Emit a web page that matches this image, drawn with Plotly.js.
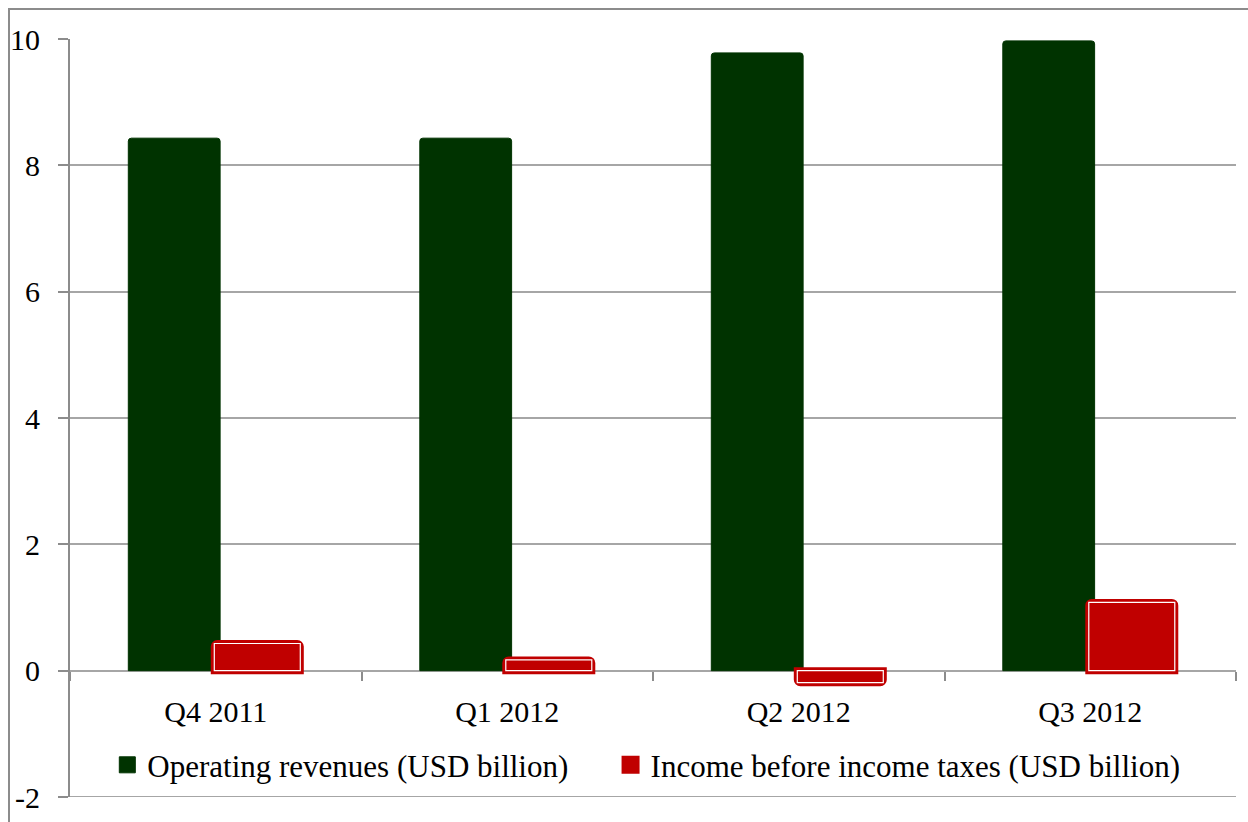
<!DOCTYPE html>
<html>
<head>
<meta charset="utf-8">
<script src="https://cdn.plot.ly/plotly-3.0.1.min.js"></script>
<style>
  html, body { margin: 0; padding: 0; background: #fff; }
  #frame { position: absolute; left: 8px; top: 8px; width: 1250px; height: 830px; border: 2px solid #8c8c8c; box-sizing: border-box; }
  #chart { position: absolute; left: 0; top: 0; width: 1248px; height: 822px; }
</style>
</head>
<body>
<div id="frame"></div>
<div id="chart"></div>
<script>
const categories = ["Q4 2011", "Q1 2012", "Q2 2012", "Q3 2012"];
const operatingRevenues = [8.43, 8.43, 9.78, 9.97];
const incomeBeforeTaxes = [0.43, 0.17, -0.19, 1.08];
const seriesNames = ["Operating revenues (USD billion)", "Income before income taxes (USD billion)"];
const yTicks = [-2, 0, 2, 4, 6, 8, 10];

const font = { family: "Liberation Serif", size: 30, color: "#000" };
const legendFont = { family: "Liberation Serif", size: 31, color: "#000" };

const traces = [
  {
    type: "bar", x: categories, y: operatingRevenues, name: seriesNames[0],
    width: 0.315, offset: -0.30, showlegend: false,
    marker: { color: "#003300", line: { color: "#003300", width: 1 }, cornerradius: 3 },
    hoverinfo: "y"
  },
  {
    type: "bar", x: categories, y: incomeBeforeTaxes, name: seriesNames[1],
    width: 0.295, offset: -0.005, showlegend: false,
    marker: { color: "#C00000", line: { color: "#C00000", width: 7 }, cornerradius: 3 },
    hoverinfo: "y"
  },
  {
    type: "bar", x: categories, y: incomeBeforeTaxes, name: seriesNames[1],
    width: 0.295, offset: -0.005, showlegend: false,
    marker: { color: "#C00000", line: { color: "#ffffff", width: 1.2 } },
    hoverinfo: "skip"
  },
  {
    type: "scatter", mode: "markers", x: [null], y: [null], name: seriesNames[0],
    legend: "legend",
    marker: { symbol: "square", size: 18, color: "#003300", line: { color: "#003300", width: 1 } }
  },
  {
    type: "scatter", mode: "markers", x: [null], y: [null], name: seriesNames[1],
    legend: "legend2",
    marker: { symbol: "square", size: 16, color: "#C00000", line: { color: "#C00000", width: 2 } }
  }
];

const legendCommon = {
  orientation: "h", y: 0.042, xanchor: "left", yanchor: "middle",
  font: legendFont, bgcolor: "rgba(0,0,0,0)", itemwidth: 30
};

const layout = {
  width: 1248, height: 822,
  margin: { l: 70, r: 12, t: 39, b: 25 },
  paper_bgcolor: "rgba(0,0,0,0)",
  plot_bgcolor: "rgba(0,0,0,0)",
  font: font,
  barmode: "overlay",
  showlegend: true,
  legend: Object.assign({}, legendCommon, { x: 0.032 }),
  legend2: Object.assign({}, legendCommon, { x: 0.4636 }),
  xaxis: {
    type: "category",
    anchor: "free", position: 0.1662,
    showgrid: false, zeroline: false,
    showline: false,
    ticks: "outside", ticklen: 9, tickwidth: 2, tickcolor: "#8c8c8c",
    tickson: "boundaries",
    ticklabelstandoff: 20,
    tickfont: font,
    range: [-0.5, 3.5]
  },
  yaxis: {
    range: [-2, 10],
    tickvals: yTicks,
    ticktext: yTicks.map(String),
    showgrid: true, gridcolor: "#a6a6a6", gridwidth: 2,
    zeroline: true, zerolinecolor: "#a6a6a6", zerolinewidth: 2,
    showline: true, linecolor: "#8c8c8c", linewidth: 2,
    ticks: "outside", ticklen: 10, tickwidth: 2, tickcolor: "#8c8c8c",
    ticklabelstandoff: 12,
    tickfont: font
  },
  shapes: [
    { type: "line", xref: "paper", yref: "y", x0: 0, x1: 1, y0: -2, y1: -2,
      line: { color: "#a6a6a6", width: 2 }, layer: "below" }
  ]
};

Plotly.newPlot("chart", traces, layout, { displayModeBar: false, staticPlot: true });
</script>
</body>
</html>
